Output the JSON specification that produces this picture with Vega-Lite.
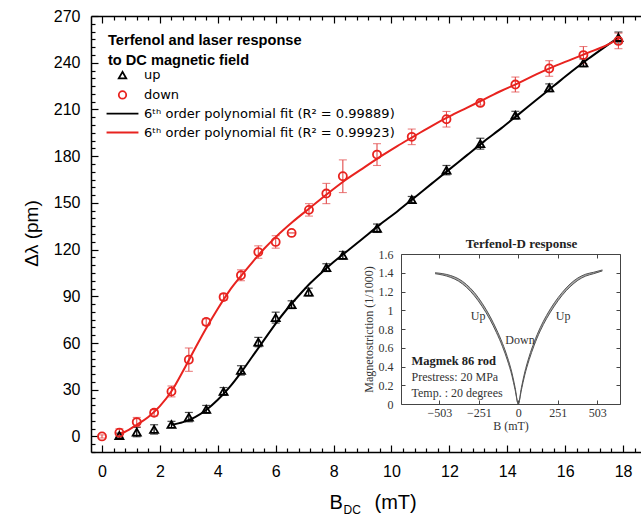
{
  "$schema": "https://vega.github.io/schema/vega-lite/v6.json",
  "width": 550,
  "height": 436,
  "autosize": {"type": "none"},
  "padding": {"left": 91, "top": 16, "right": 0, "bottom": 68},
  "background": "white",
  "config": {
    "view": {"stroke": null},
    "font": "Liberation Sans",
    "axis": {"grid": false, "domainColor": "#000", "tickColor": "#000", "labelColor": "#000", "titleColor": "#000", "labelFont": "Liberation Sans", "titleFont": "Liberation Sans", "titleFontWeight": "normal"},
    "legend": {"labelFontSize": 13, "labelFont": "DejaVu Sans", "labelColor": "#000", "labelLimit": 400, "titleLimit": 400}
  },
  "datasets": {
    "meas": [
      {"series": "up", "B": 0.6, "dl": 0.6, "err": 1.5},
      {"series": "up", "B": 1.2, "dl": 2.8, "err": 3},
      {"series": "up", "B": 1.8, "dl": 4.5, "err": 3},
      {"series": "up", "B": 2.4, "dl": 7.7, "err": 2},
      {"series": "up", "B": 3.0, "dl": 12.4, "err": 3},
      {"series": "up", "B": 3.6, "dl": 17.4, "err": 2.5},
      {"series": "up", "B": 4.2, "dl": 28.9, "err": 2.5},
      {"series": "up", "B": 4.8, "dl": 42.4, "err": 3},
      {"series": "up", "B": 5.4, "dl": 60.6, "err": 3},
      {"series": "up", "B": 6.0, "dl": 76.3, "err": 3.5},
      {"series": "up", "B": 6.55, "dl": 84.6, "err": 2.5},
      {"series": "up", "B": 7.14, "dl": 92.7, "err": 2.5},
      {"series": "up", "B": 7.75, "dl": 108.4, "err": 2.5},
      {"series": "up", "B": 8.32, "dl": 116.3, "err": 2.5},
      {"series": "up", "B": 9.5, "dl": 133.7, "err": 2.7},
      {"series": "up", "B": 10.7, "dl": 152.1, "err": 2},
      {"series": "up", "B": 11.9, "dl": 171.0, "err": 3},
      {"series": "up", "B": 13.07, "dl": 188.0, "err": 3.5},
      {"series": "up", "B": 14.28, "dl": 206.3, "err": 2.5},
      {"series": "up", "B": 15.45, "dl": 223.9, "err": 2.5},
      {"series": "up", "B": 16.63, "dl": 239.9, "err": 2.5},
      {"series": "up", "B": 17.84, "dl": 256.2, "err": 3.5},
      {"series": "down", "B": 0, "dl": 0, "err": 1},
      {"series": "down", "B": 0.6, "dl": 2.4, "err": 2.5},
      {"series": "down", "B": 1.2, "dl": 9.2, "err": 3},
      {"series": "down", "B": 1.8, "dl": 15.2, "err": 2},
      {"series": "down", "B": 2.4, "dl": 28.9, "err": 3.5},
      {"series": "down", "B": 3.0, "dl": 49.3, "err": 7.5},
      {"series": "down", "B": 3.6, "dl": 73.5, "err": 2},
      {"series": "down", "B": 4.2, "dl": 89.5, "err": 2},
      {"series": "down", "B": 4.8, "dl": 103.5, "err": 3.5},
      {"series": "down", "B": 5.4, "dl": 118.4, "err": 4},
      {"series": "down", "B": 6.0, "dl": 124.9, "err": 4},
      {"series": "down", "B": 6.55, "dl": 130.7, "err": 0},
      {"series": "down", "B": 7.15, "dl": 145.5, "err": 4},
      {"series": "down", "B": 7.75, "dl": 156.0, "err": 6.5},
      {"series": "down", "B": 8.32, "dl": 167.1, "err": 10.5},
      {"series": "down", "B": 9.5, "dl": 181.0, "err": 7},
      {"series": "down", "B": 10.7, "dl": 192.4, "err": 5},
      {"series": "down", "B": 11.9, "dl": 203.7, "err": 5},
      {"series": "down", "B": 13.07, "dl": 214.2, "err": 1.5},
      {"series": "down", "B": 14.28, "dl": 226.0, "err": 4.8},
      {"series": "down", "B": 15.45, "dl": 236.3, "err": 5},
      {"series": "down", "B": 16.63, "dl": 244.9, "err": 5.5},
      {"series": "down", "B": 17.84, "dl": 254.0, "err": 5}
    ],
    "fits": [
      {"fit": "6ᵗʰ order polynomial fit (R² = 0.99889)", "B": 2.4, "dl": 7.5},
      {"fit": "6ᵗʰ order polynomial fit (R² = 0.99889)", "B": 2.8, "dl": 9.2},
      {"fit": "6ᵗʰ order polynomial fit (R² = 0.99889)", "B": 3.2, "dl": 12.3},
      {"fit": "6ᵗʰ order polynomial fit (R² = 0.99889)", "B": 3.6, "dl": 17},
      {"fit": "6ᵗʰ order polynomial fit (R² = 0.99889)", "B": 4.0, "dl": 23.5},
      {"fit": "6ᵗʰ order polynomial fit (R² = 0.99889)", "B": 4.4, "dl": 31.5},
      {"fit": "6ᵗʰ order polynomial fit (R² = 0.99889)", "B": 4.8, "dl": 41},
      {"fit": "6ᵗʰ order polynomial fit (R² = 0.99889)", "B": 5.2, "dl": 51.5},
      {"fit": "6ᵗʰ order polynomial fit (R² = 0.99889)", "B": 5.6, "dl": 62},
      {"fit": "6ᵗʰ order polynomial fit (R² = 0.99889)", "B": 6.0, "dl": 72.5},
      {"fit": "6ᵗʰ order polynomial fit (R² = 0.99889)", "B": 6.4, "dl": 82},
      {"fit": "6ᵗʰ order polynomial fit (R² = 0.99889)", "B": 6.8, "dl": 90.5},
      {"fit": "6ᵗʰ order polynomial fit (R² = 0.99889)", "B": 7.2, "dl": 98.5},
      {"fit": "6ᵗʰ order polynomial fit (R² = 0.99889)", "B": 7.6, "dl": 105.5},
      {"fit": "6ᵗʰ order polynomial fit (R² = 0.99889)", "B": 8.0, "dl": 112},
      {"fit": "6ᵗʰ order polynomial fit (R² = 0.99889)", "B": 8.4, "dl": 118},
      {"fit": "6ᵗʰ order polynomial fit (R² = 0.99889)", "B": 9.0, "dl": 127},
      {"fit": "6ᵗʰ order polynomial fit (R² = 0.99889)", "B": 9.6, "dl": 136},
      {"fit": "6ᵗʰ order polynomial fit (R² = 0.99889)", "B": 10.2, "dl": 144.5},
      {"fit": "6ᵗʰ order polynomial fit (R² = 0.99889)", "B": 10.8, "dl": 153.5},
      {"fit": "6ᵗʰ order polynomial fit (R² = 0.99889)", "B": 11.4, "dl": 162.5},
      {"fit": "6ᵗʰ order polynomial fit (R² = 0.99889)", "B": 12.0, "dl": 171.5},
      {"fit": "6ᵗʰ order polynomial fit (R² = 0.99889)", "B": 12.6, "dl": 180.5},
      {"fit": "6ᵗʰ order polynomial fit (R² = 0.99889)", "B": 13.2, "dl": 189.5},
      {"fit": "6ᵗʰ order polynomial fit (R² = 0.99889)", "B": 13.8, "dl": 198},
      {"fit": "6ᵗʰ order polynomial fit (R² = 0.99889)", "B": 14.4, "dl": 207},
      {"fit": "6ᵗʰ order polynomial fit (R² = 0.99889)", "B": 15.0, "dl": 216},
      {"fit": "6ᵗʰ order polynomial fit (R² = 0.99889)", "B": 15.6, "dl": 225},
      {"fit": "6ᵗʰ order polynomial fit (R² = 0.99889)", "B": 16.2, "dl": 234},
      {"fit": "6ᵗʰ order polynomial fit (R² = 0.99889)", "B": 16.8, "dl": 242.5},
      {"fit": "6ᵗʰ order polynomial fit (R² = 0.99889)", "B": 17.4, "dl": 250.5},
      {"fit": "6ᵗʰ order polynomial fit (R² = 0.99889)", "B": 17.9, "dl": 257},
      {"fit": "6ᵗʰ order polynomial fit (R² = 0.99923)", "B": 0.55, "dl": 1.5},
      {"fit": "6ᵗʰ order polynomial fit (R² = 0.99923)", "B": 0.8, "dl": 3},
      {"fit": "6ᵗʰ order polynomial fit (R² = 0.99923)", "B": 1.2, "dl": 7.5},
      {"fit": "6ᵗʰ order polynomial fit (R² = 0.99923)", "B": 1.6, "dl": 12.5},
      {"fit": "6ᵗʰ order polynomial fit (R² = 0.99923)", "B": 2.0, "dl": 19.5},
      {"fit": "6ᵗʰ order polynomial fit (R² = 0.99923)", "B": 2.4, "dl": 29},
      {"fit": "6ᵗʰ order polynomial fit (R² = 0.99923)", "B": 2.8, "dl": 42},
      {"fit": "6ᵗʰ order polynomial fit (R² = 0.99923)", "B": 3.2, "dl": 56},
      {"fit": "6ᵗʰ order polynomial fit (R² = 0.99923)", "B": 3.6, "dl": 69.5},
      {"fit": "6ᵗʰ order polynomial fit (R² = 0.99923)", "B": 4.0, "dl": 82},
      {"fit": "6ᵗʰ order polynomial fit (R² = 0.99923)", "B": 4.4, "dl": 93.5},
      {"fit": "6ᵗʰ order polynomial fit (R² = 0.99923)", "B": 4.8, "dl": 103},
      {"fit": "6ᵗʰ order polynomial fit (R² = 0.99923)", "B": 5.2, "dl": 112},
      {"fit": "6ᵗʰ order polynomial fit (R² = 0.99923)", "B": 5.6, "dl": 120.5},
      {"fit": "6ᵗʰ order polynomial fit (R² = 0.99923)", "B": 6.0, "dl": 128},
      {"fit": "6ᵗʰ order polynomial fit (R² = 0.99923)", "B": 6.6, "dl": 138},
      {"fit": "6ᵗʰ order polynomial fit (R² = 0.99923)", "B": 7.2, "dl": 147},
      {"fit": "6ᵗʰ order polynomial fit (R² = 0.99923)", "B": 7.8, "dl": 156},
      {"fit": "6ᵗʰ order polynomial fit (R² = 0.99923)", "B": 8.4, "dl": 164.5},
      {"fit": "6ᵗʰ order polynomial fit (R² = 0.99923)", "B": 9.0, "dl": 172},
      {"fit": "6ᵗʰ order polynomial fit (R² = 0.99923)", "B": 9.6, "dl": 179.5},
      {"fit": "6ᵗʰ order polynomial fit (R² = 0.99923)", "B": 10.2, "dl": 186.5},
      {"fit": "6ᵗʰ order polynomial fit (R² = 0.99923)", "B": 10.8, "dl": 193},
      {"fit": "6ᵗʰ order polynomial fit (R² = 0.99923)", "B": 11.4, "dl": 199.5},
      {"fit": "6ᵗʰ order polynomial fit (R² = 0.99923)", "B": 12.0, "dl": 205.5},
      {"fit": "6ᵗʰ order polynomial fit (R² = 0.99923)", "B": 12.6, "dl": 211},
      {"fit": "6ᵗʰ order polynomial fit (R² = 0.99923)", "B": 13.2, "dl": 216.5},
      {"fit": "6ᵗʰ order polynomial fit (R² = 0.99923)", "B": 13.8, "dl": 222},
      {"fit": "6ᵗʰ order polynomial fit (R² = 0.99923)", "B": 14.4, "dl": 227},
      {"fit": "6ᵗʰ order polynomial fit (R² = 0.99923)", "B": 15.0, "dl": 232.5},
      {"fit": "6ᵗʰ order polynomial fit (R² = 0.99923)", "B": 15.6, "dl": 237.5},
      {"fit": "6ᵗʰ order polynomial fit (R² = 0.99923)", "B": 16.2, "dl": 242},
      {"fit": "6ᵗʰ order polynomial fit (R² = 0.99923)", "B": 16.8, "dl": 246.5},
      {"fit": "6ᵗʰ order polynomial fit (R² = 0.99923)", "B": 17.4, "dl": 251},
      {"fit": "6ᵗʰ order polynomial fit (R² = 0.99923)", "B": 17.9, "dl": 256}
    ],
    "curve": [
      {"B": -530, "a": 1.40, "b": 1.39}, {"B": -480, "a": 1.39, "b": 1.375}, {"B": -430, "a": 1.37, "b": 1.35},
      {"B": -380, "a": 1.335, "b": 1.31}, {"B": -330, "a": 1.275, "b": 1.245}, {"B": -280, "a": 1.19, "b": 1.155},
      {"B": -230, "a": 1.075, "b": 1.04}, {"B": -180, "a": 0.935, "b": 0.9}, {"B": -140, "a": 0.80, "b": 0.765},
      {"B": -100, "a": 0.645, "b": 0.61}, {"B": -70, "a": 0.505, "b": 0.47}, {"B": -40, "a": 0.33, "b": 0.3},
      {"B": -20, "a": 0.175, "b": 0.15}, {"B": 0, "a": 0.0, "b": 0.0}, {"B": 20, "a": 0.175, "b": 0.15},
      {"B": 40, "a": 0.33, "b": 0.3}, {"B": 70, "a": 0.51, "b": 0.475}, {"B": 100, "a": 0.655, "b": 0.62},
      {"B": 140, "a": 0.815, "b": 0.78}, {"B": 180, "a": 0.945, "b": 0.91}, {"B": 230, "a": 1.08, "b": 1.045},
      {"B": 280, "a": 1.19, "b": 1.16}, {"B": 330, "a": 1.28, "b": 1.25}, {"B": 380, "a": 1.345, "b": 1.32},
      {"B": 430, "a": 1.385, "b": 1.365}, {"B": 480, "a": 1.405, "b": 1.39}, {"B": 536, "a": 1.43, "b": 1.42}
    ],
    "notes": [
      {"B": -256, "lam": 0.94, "t": "Up"},
      {"B": 11, "lam": 0.68, "t": "Down"},
      {"B": 286, "lam": 0.94, "t": "Up"}
    ],
    "notesLeft": [
      {"B": -680, "lam": 0.29, "t": "Prestress: 20 MPa"},
      {"B": -680, "lam": 0.12, "t": "Temp. : 20 degrees"}
    ],
    "notesBold": [
      {"B": -680, "lam": 0.46, "t": "Magmek 86 rod"}
    ]
  },
  "layer": [
    {
      "layer": [
        {
          "data": {"name": "meas"},
          "transform": [{"filter": "datum.series === 'up'"}],
          "mark": {"type": "errorbar", "ticks": {"size": 8}, "color": "#000", "thickness": 1.2},
          "encoding": {
            "x": {"field": "B", "type": "quantitative", "scale": {"domain": [-0.38, 18.62], "nice": false, "zero": false},
              "axis": {"orient": "bottom", "labels": false, "ticks": false, "domain": false, "title": "(mT)", "titleFontSize": 20, "titleAlign": "left", "titleBaseline": "alphabetic", "titleX": 283, "titleY": 56}},
            "y": {"field": "dl", "type": "quantitative", "scale": {"domain": [-10, 270], "nice": false, "zero": false}, "axis": null},
            "yError": {"field": "err"}
          }
        },
        {
          "data": {"name": "meas"},
          "transform": [{"filter": "datum.series === 'down'"}],
          "mark": {"type": "errorbar", "ticks": {"size": 8}, "color": "#e24a4a", "thickness": 1.1},
          "encoding": {
            "x": {"field": "B", "type": "quantitative", "scale": {"domain": [-0.38, 18.62], "nice": false, "zero": false}, "axis": null},
            "y": {"field": "dl", "type": "quantitative", "scale": {"domain": [-10, 270], "nice": false, "zero": false}, "axis": null},
            "yError": {"field": "err"}
          }
        },
        {
          "data": {"name": "fits"},
          "mark": {"type": "line", "strokeWidth": 2, "interpolate": "monotone"},
          "encoding": {
            "x": {"field": "B", "type": "quantitative", "scale": {"domain": [-0.38, 18.62], "nice": false, "zero": false},
              "axis": {"orient": "bottom", "values": [0,0.4,0.8,1.2,1.6,2,2.4,2.8,3.2,3.6,4,4.4,4.8,5.2,5.6,6,6.4,6.8,7.2,7.6,8,8.4,8.8,9.2,9.6,10,10.4,10.8,11.2,11.6,12,12.4,12.8,13.2,13.6,14,14.4,14.8,15.2,15.6,16,16.4,16.8,17.2,17.6,18,18.4],
                "domainWidth": 1.5, "tickWidth": 1.2,
                "tickSize": {"condition": {"test": "datum.value % 2 === 0", "value": -7}, "value": -4},
                "labelExpr": "datum.value % 2 === 0 ? format(datum.value, 'd') : ''", "labelOverlap": false, "labelFlush": false,
                "labelFontSize": 16, "labelPadding": 18,
                "title": "B", "titleFontSize": 20, "titleAlign": "left", "titleBaseline": "alphabetic", "titleX": 238, "titleY": 56}},
            "y": {"field": "dl", "type": "quantitative", "scale": {"domain": [-10, 270], "nice": false, "zero": false}, "axis": null},
            "color": {"field": "fit", "type": "nominal",
              "scale": {"domain": ["up", "down", "6ᵗʰ order polynomial fit (R² = 0.99889)", "6ᵗʰ order polynomial fit (R² = 0.99923)"], "range": ["#000000", "#e8231f", "#000000", "#e8231f"]},
              "legend": null}
          }
        },
        {
          "data": {"name": "meas"},
          "mark": {"type": "point", "filled": false, "strokeWidth": 1.8, "size": 65, "opacity": 1},
          "encoding": {
            "x": {"field": "B", "type": "quantitative", "scale": {"domain": [-0.38, 18.62], "nice": false, "zero": false},
              "axis": {"orient": "top", "values": [0,0.4,0.8,1.2,1.6,2,2.4,2.8,3.2,3.6,4,4.4,4.8,5.2,5.6,6,6.4,6.8,7.2,7.6,8,8.4,8.8,9.2,9.6,10,10.4,10.8,11.2,11.6,12,12.4,12.8,13.2,13.6,14,14.4,14.8,15.2,15.6,16,16.4,16.8,17.2,17.6,18,18.4],
                "labels": false, "domainWidth": 1.5, "tickWidth": 1.2,
                "tickSize": {"condition": {"test": "datum.value % 2 === 0", "value": -7}, "value": -4},
                "title": "DC", "titleFontSize": 12, "titleAlign": "left", "titleBaseline": "alphabetic", "titleX": 252, "titleY": 497, "titleAngle": 0}},
            "y": {"field": "dl", "type": "quantitative", "scale": {"domain": [-10, 270], "nice": false, "zero": false},
              "axis": {"orient": "left", "values": [-10,-5,0,5,10,15,20,25,30,35,40,45,50,55,60,65,70,75,80,85,90,95,100,105,110,115,120,125,130,135,140,145,150,155,160,165,170,175,180,185,190,195,200,205,210,215,220,225,230,235,240,245,250,255,260,265,270],
                "domainWidth": 1.5, "tickWidth": 1.2,
                "tickSize": {"condition": {"test": "datum.value % 30 === 0", "value": -7}, "value": -4},
                "labelExpr": "datum.value % 30 === 0 ? format(datum.value, 'd') : ''", "labelOverlap": false, "labelFlush": false,
                "labelFontSize": 16, "labelPadding": 18,
                "title": "Δλ (pm)", "titleFontSize": 19, "titleAngle": -90, "titleAlign": "center", "titleBaseline": "middle", "titleX": -60, "titleY": 217}},
            "color": {"field": "series", "type": "nominal",
              "scale": {"domain": ["up", "down", "6ᵗʰ order polynomial fit (R² = 0.99889)", "6ᵗʰ order polynomial fit (R² = 0.99923)"], "range": ["#000000", "#e8231f", "#000000", "#e8231f"]},
              "legend": {"title": ["Terfenol and laser response", "to DC magnetic field"], "orient": "top-left", "offset": 17, "padding": 0,
                "titleFontSize": 14.6, "titleFontWeight": "bold", "titleFont": "Liberation Sans", "titleColor": "#000", "titleLineHeight": 20, "titlePadding": 1, "titleLimit": 400,
                "labelFontSize": 13, "labelFont": "DejaVu Sans", "labelColor": "#000", "labelLimit": 400, "symbolSize": 55, "symbolStrokeWidth": 1.8,
                "symbolOffset": 8, "labelOffset": 15, "rowPadding": 4.8}},
            "shape": {"field": "series", "type": "nominal",
              "scale": {"domain": ["up", "down", "6ᵗʰ order polynomial fit (R² = 0.99889)", "6ᵗʰ order polynomial fit (R² = 0.99923)"], "range": ["triangle-up", "circle", "M-4.3,0H4.3", "M-4.3,0H4.3"]},
              "legend": {"title": ["Terfenol and laser response", "to DC magnetic field"], "orient": "top-left", "offset": 17, "padding": 0,
                "titleFontSize": 14.6, "titleFontWeight": "bold", "titleFont": "Liberation Sans", "titleColor": "#000", "titleLineHeight": 20, "titlePadding": 1, "titleLimit": 400,
                "labelFontSize": 13, "labelFont": "DejaVu Sans", "labelColor": "#000", "labelLimit": 400, "symbolSize": 55, "symbolStrokeWidth": 1.8,
                "symbolOffset": 8, "labelOffset": 15, "rowPadding": 4.8}}
          }
        }
      ],
      "resolve": {"axis": {"x": "independent", "y": "independent"}, "legend": {"color": "independent", "shape": "independent"}}
    },
    {
      "layer": [
        {
          "data": {"name": "curve"},
          "mark": {"type": "area", "color": "#aaaaaa", "interpolate": "monotone"},
          "encoding": {
            "x": {"field": "B", "type": "quantitative", "scale": {"domain": [-747, 648], "range": [310, 529], "nice": false, "zero": false},
              "axis": {"orient": "bottom", "offset": -48, "values": [-503, -251, 0, 251, 503], "tickSize": -4, "domainColor": "#444", "tickColor": "#444",
                "labelFont": "Liberation Serif", "labelFontSize": 12, "labelColor": "#333", "labelPadding": 7, "labelFlush": false,
                "title": "B (mT)", "titleFont": "Liberation Serif", "titleFontSize": 12, "titleColor": "#333", "titlePadding": 2}},
            "y": {"field": "a", "type": "quantitative", "scale": {"domain": [0, 1.6], "range": [388, 238], "nice": false, "zero": false},
              "axis": {"orient": "left", "offset": -310, "values": [0, 0.2, 0.4, 0.6, 0.8, 1, 1.2, 1.4, 1.6], "format": "~g", "tickSize": -4, "domainColor": "#444", "tickColor": "#444",
                "labelFont": "Liberation Serif", "labelFontSize": 12, "labelColor": "#333", "labelPadding": 12, "labelFlush": false,
                "title": "Magnetostriction (1/1000)", "titleFont": "Liberation Serif", "titleFontSize": 12, "titleColor": "#333", "titlePadding": 3}},
            "y2": {"field": "b"}
          }
        },
        {
          "data": {"name": "curve"},
          "mark": {"type": "line", "color": "#555", "strokeWidth": 1, "interpolate": "monotone"},
          "encoding": {
            "x": {"field": "B", "type": "quantitative", "scale": {"domain": [-747, 648], "range": [310, 529], "nice": false, "zero": false}, "axis": null},
            "y": {"field": "a", "type": "quantitative", "scale": {"domain": [0, 1.6], "range": [388, 238], "nice": false, "zero": false}, "axis": null}
          }
        },
        {
          "data": {"name": "curve"},
          "mark": {"type": "line", "color": "#555", "strokeWidth": 1, "interpolate": "monotone"},
          "encoding": {
            "x": {"field": "B", "type": "quantitative", "scale": {"domain": [-747, 648], "range": [310, 529], "nice": false, "zero": false}, "axis": null},
            "y": {"field": "b", "type": "quantitative", "scale": {"domain": [0, 1.6], "range": [388, 238], "nice": false, "zero": false}, "axis": null}
          }
        },
        {
          "data": {"name": "notes"},
          "mark": {"type": "text", "font": "Liberation Serif", "fontSize": 12, "color": "#333", "align": "center", "baseline": "middle"},
          "encoding": {
            "x": {"field": "B", "type": "quantitative", "scale": {"domain": [-747, 648], "range": [310, 529], "nice": false, "zero": false},
              "axis": {"orient": "top", "offset": -238, "values": [-503, -251, 0, 251, 503], "tickSize": -4, "labels": false, "domainColor": "#444", "tickColor": "#444",
                "title": "Terfenol-D response", "titleFont": "Liberation Serif", "titleFontSize": 13, "titleFontWeight": "bold", "titleColor": "#222", "titlePadding": 3, "titleX": 430}},
            "y": {"field": "lam", "type": "quantitative", "scale": {"domain": [0, 1.6], "range": [388, 238], "nice": false, "zero": false},
              "axis": {"orient": "right", "offset": -21, "values": [0, 0.2, 0.4, 0.6, 0.8, 1, 1.2, 1.4, 1.6], "tickSize": -4, "labels": false, "domainColor": "#444", "tickColor": "#444", "title": null}},
            "text": {"field": "t"}
          }
        },
        {
          "data": {"name": "notesLeft"},
          "mark": {"type": "text", "font": "Liberation Serif", "fontSize": 12, "color": "#333", "align": "left", "baseline": "middle"},
          "encoding": {
            "x": {"field": "B", "type": "quantitative", "scale": {"domain": [-747, 648], "range": [310, 529], "nice": false, "zero": false}, "axis": null},
            "y": {"field": "lam", "type": "quantitative", "scale": {"domain": [0, 1.6], "range": [388, 238], "nice": false, "zero": false}, "axis": null},
            "text": {"field": "t"}
          }
        },
        {
          "data": {"name": "notesBold"},
          "mark": {"type": "text", "font": "Liberation Serif", "fontSize": 12.5, "fontWeight": "bold", "color": "#222", "align": "left", "baseline": "middle"},
          "encoding": {
            "x": {"field": "B", "type": "quantitative", "scale": {"domain": [-747, 648], "range": [310, 529], "nice": false, "zero": false}, "axis": null},
            "y": {"field": "lam", "type": "quantitative", "scale": {"domain": [0, 1.6], "range": [388, 238], "nice": false, "zero": false}, "axis": null},
            "text": {"field": "t"}
          }
        }
      ],
      "resolve": {"axis": {"x": "independent", "y": "independent"}}
    }
  ],
  "resolve": {"scale": {"x": "independent", "y": "independent", "color": "independent", "shape": "independent"}}
}
